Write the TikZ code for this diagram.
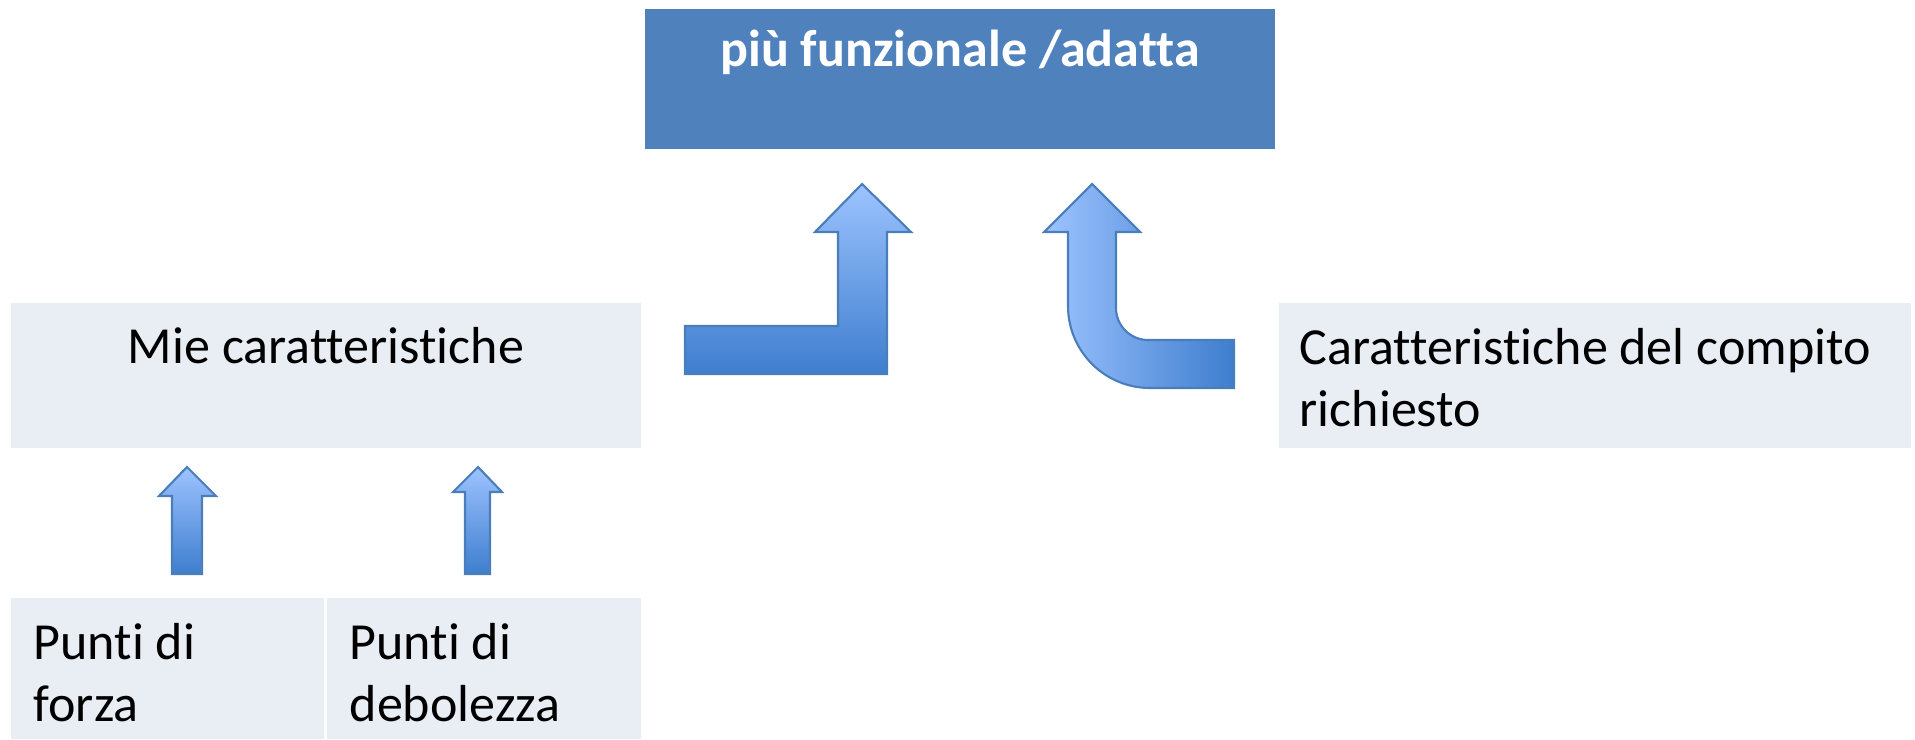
\documentclass[tikz,border=0pt]{standalone}
\usepackage{fontspec}
\setmainfont{Carlito}[Ligatures={NoCommon}]

\definecolor{goalblue}{RGB}{79,129,189}
\definecolor{panelgrey}{RGB}{233,237,244}
\definecolor{arrowlight}{RGB}{157,195,255}
\definecolor{arrowdark}{RGB}{62,126,206}
\definecolor{arrowline}{RGB}{74,126,187}

\begin{document}
\begin{tikzpicture}[x=0.01cm, y=0.01cm,
    panel/.style={fill=panelgrey, inner sep=0pt},
    paneltext/.style={inner sep=0pt, align=left, font=\fontsize{14.8}{17.6}\selectfont},
    blockarrow/.style={draw=arrowline, line width=0.6pt, line join=miter}]

    \useasboundingbox (0,0) rectangle (1915,739);

    % boxes
    \node[fill=goalblue, inner sep=0pt, minimum width=6.30cm, minimum height=1.40cm] (goal) at (960,660) {};
    \node[panel, minimum width=6.30cm, minimum height=1.45cm] (mine) at (326,363.5) {};
    \node[panel, minimum width=6.32cm, minimum height=1.45cm] (task) at (1595,363.5) {};
    \node[panel, minimum width=3.13cm, minimum height=1.41cm] (strength) at (167.5,70.5) {};
    \node[panel, minimum width=3.14cm, minimum height=1.41cm] (weakness) at (484,70.5) {};

    % texts (base = last line)
    \node[paneltext, white, font=\fontsize{14.8}{17.6}\selectfont\bfseries, anchor=base] (goaltext) at (960,672) {più funzionale /adatta};
    \node[paneltext, anchor=base] (minetext) at (326,375) {Mie caratteristiche};
    \node[paneltext, anchor=base west] (tasktext) at (1299,313) {Caratteristiche del compito\\richiesto};
    \node[paneltext, anchor=base west] (strengthtext) at (33,18) {Punti di\\forza};
    \node[paneltext, anchor=base west] (weaknesstext) at (349,18) {Punti di\\debolezza};

    % small arrows
    \draw[blockarrow, top color=arrowlight, bottom color=arrowdark]
        (172,165) -- (172,243) -- (159,243) -- (187,272) -- (216,243) -- (202,243) -- (202,165) -- cycle;
    \draw[blockarrow, top color=arrowlight, bottom color=arrowdark]
        (465,165) -- (465,247) -- (453,247) -- (478,272) -- (502,247) -- (490,247) -- (490,165) -- cycle;

    % bent arrow
    \draw[blockarrow, top color=arrowlight, bottom color=arrowdark]
        (685,365) -- (887,365) -- (887,507) -- (911,507) -- (862,555) -- (815,507)
        -- (838,507) -- (838,413) -- (685,413) -- cycle;

    % u-turn arrow
    \draw[blockarrow, left color=arrowlight, right color=arrowdark]
        (1234,351) -- (1150,351) arc[start angle=270, end angle=180, radius=82]
        -- (1068,507) -- (1044,507) -- (1092,555) -- (1140,507) -- (1116,507)
        -- (1116,431) arc[start angle=180, end angle=270, radius=32] -- (1234,399) -- cycle;

\end{tikzpicture}
\end{document}
